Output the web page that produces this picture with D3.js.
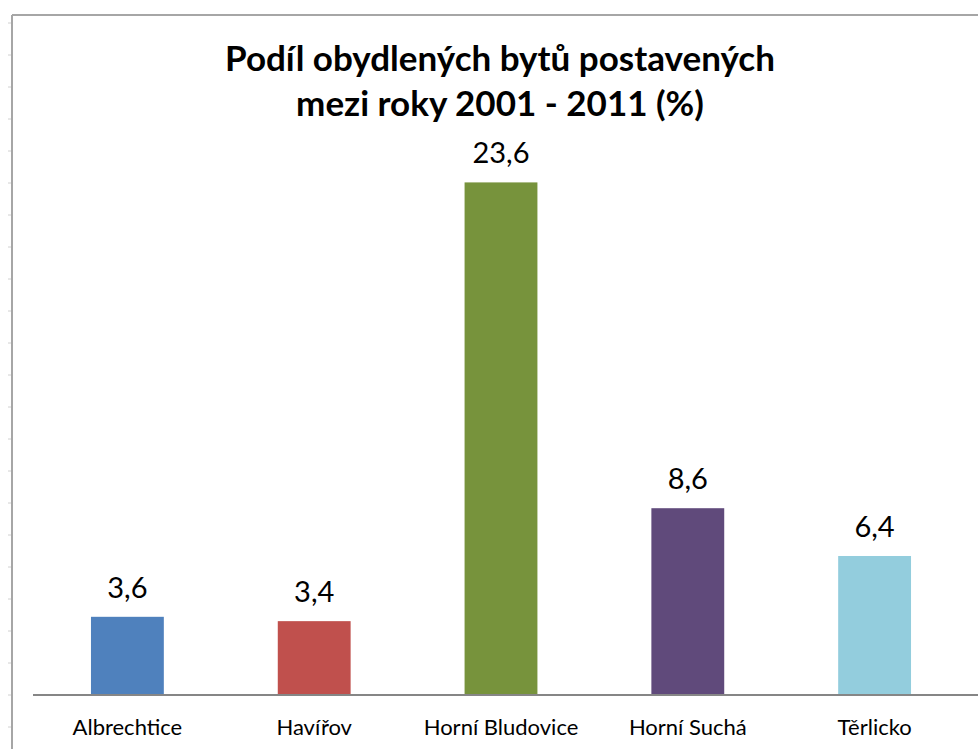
<!DOCTYPE html>
<html>
<head>
<meta charset="utf-8">
<script src="https://cdn.jsdelivr.net/npm/d3@7"></script>
<style>
  body { margin: 0; background: #fff; }
  svg { display: block; font-family: Lato, "Noto Sans", sans-serif; }
</style>
</head>
<body>
<div id="chart"></div>
<script>
// data
const categories = ["Albrechtice", "Havířov", "Horní Bludovice", "Horní Suchá", "Těrlicko"];
const values = [3.6, 3.4, 23.6, 8.6, 6.4];
const barColors = ["#4F81BD", "#C0504D", "#77933C", "#604A7B", "#93CDDD"];
const titleLines = ["Podíl obydlených bytů postavených", "mezi roky 2001 - 2011 (%)"];

const width = 978, height = 749;

const svg = d3.select("#chart")
  .append("svg")
  .attr("width", width)
  .attr("height", height);

// sheet row marks on the left side (spreadsheet background)
const rowTicks = d3.range(23, 740, 32);
svg.append("g").selectAll("line")
  .data(rowTicks)
  .enter()
  .append("line")
  .attr("x1", 8).attr("x2", 11)
  .attr("y1", d => d).attr("y2", d => d)
  .attr("stroke", "#d0d0d0");

// chart area frame (top + left edges are visible)
svg.append("line")
  .attr("x1", 12).attr("x2", width)
  .attr("y1", 15).attr("y2", 15)
  .attr("stroke", "#a6a6a6").attr("stroke-width", 2);
svg.append("line")
  .attr("x1", 12).attr("x2", 12)
  .attr("y1", 15).attr("y2", height)
  .attr("stroke", "#a6a6a6").attr("stroke-width", 2);

// scales
const x = d3.scaleBand()
  .domain(categories)
  .range([34, 968])
  .paddingInner(0.61)
  .paddingOuter(0.305);

const y = d3.scaleLinear()
  .domain([0, 25])
  .range([695, 152]);

// title
const title = svg.append("text")
  .attr("text-anchor", "middle")
  .style("font-weight", "bold")
  .style("font-size", "35px")
  .style("fill", "#000");
title.selectAll("tspan")
  .data(titleLines)
  .enter()
  .append("tspan")
  .attr("x", 500)
  .attr("y", (d, i) => 71 + i * 45)
  .text(d => d);

// bars
svg.append("g").selectAll("rect")
  .data(values)
  .enter()
  .append("rect")
  .attr("x", (d, i) => x(categories[i]))
  .attr("y", d => y(d))
  .attr("width", x.bandwidth())
  .attr("height", d => y(0) - y(d))
  .attr("fill", (d, i) => barColors[i]);

// value labels
svg.append("g").selectAll("text")
  .data(values)
  .enter()
  .append("text")
  .attr("x", (d, i) => x(categories[i]) + x.bandwidth() / 2)
  .attr("y", d => y(d) - 19)
  .attr("text-anchor", "middle")
  .style("font-size", "29px")
  .style("fill", "#000")
  .text(d => d3.format(".1f")(d).replace(".", ","));

// category axis
const xAxis = svg.append("g")
  .attr("transform", "translate(0," + y(0) + ")")
  .call(d3.axisBottom(x).tickSize(0).tickPadding(24));
xAxis.select(".domain")
  .attr("d", "M33,0H" + width)
  .attr("stroke", "#868686")
  .attr("stroke-width", 2);
xAxis.selectAll("text")
  .style("font-family", "Lato, 'Noto Sans', sans-serif")
  .style("font-size", "22px")
  .style("fill", "#000");
</script>
</body>
</html>
